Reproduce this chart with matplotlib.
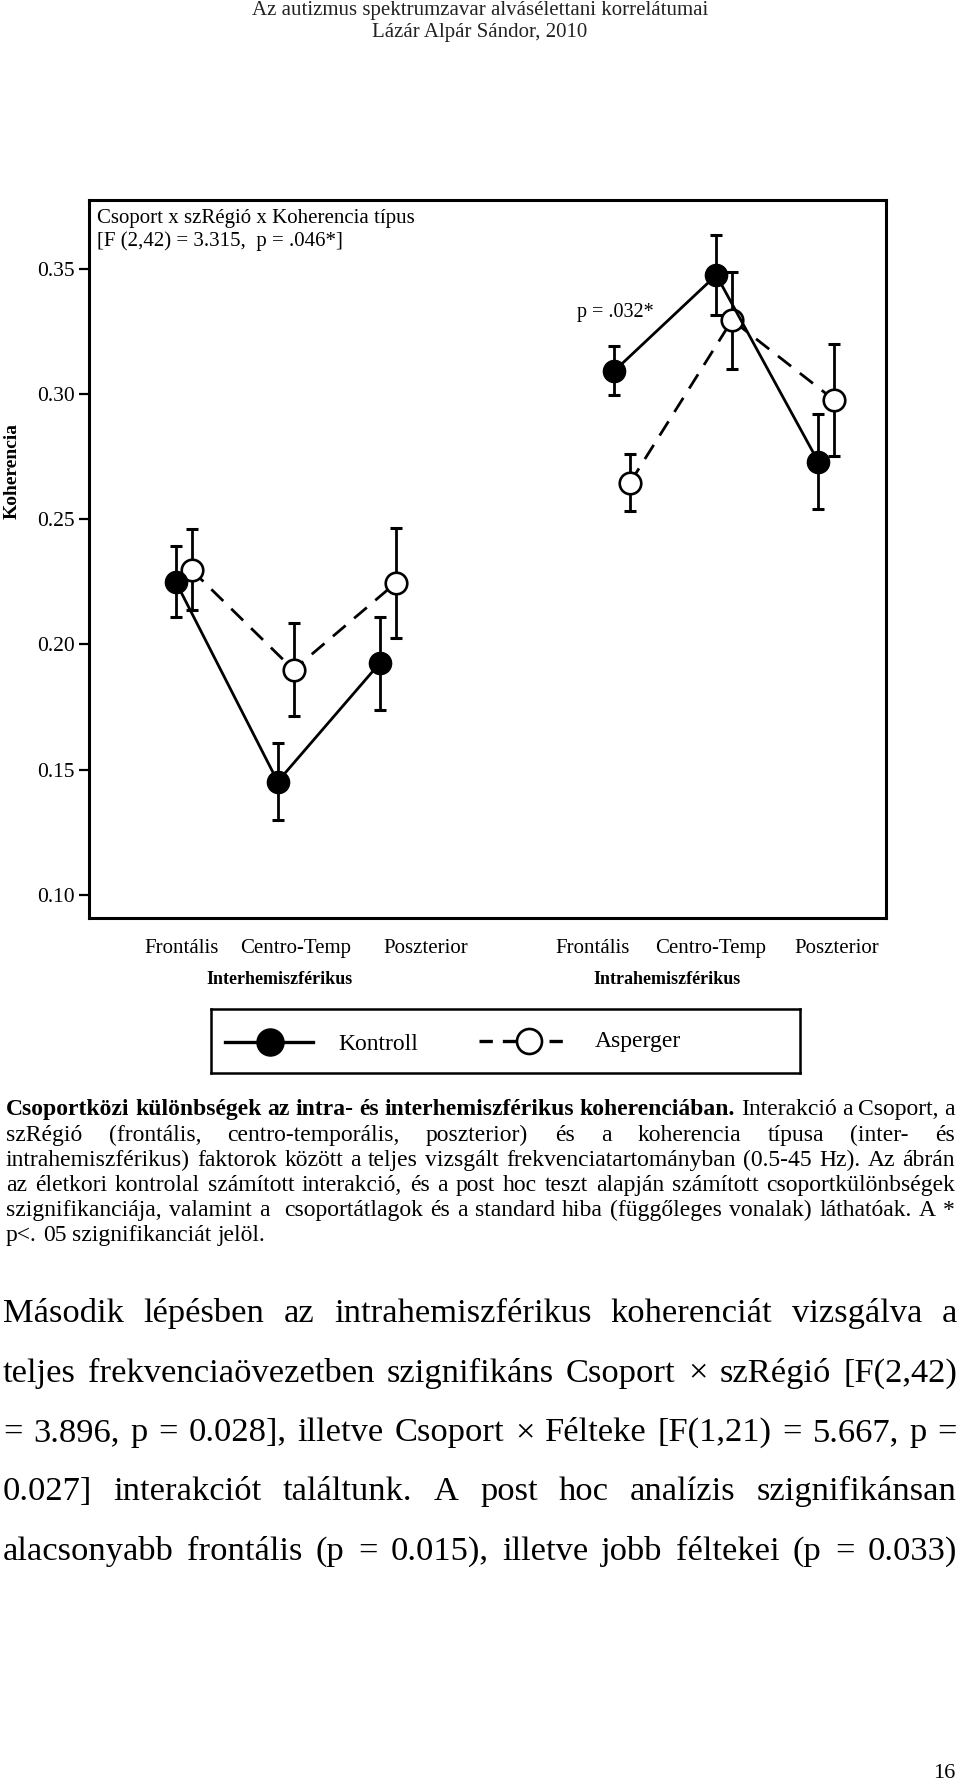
import matplotlib
matplotlib.use('Agg')
import matplotlib.pyplot as plt
from matplotlib.lines import Line2D

# ---------------- data ----------------
regions = ['Frontális', 'Centro-Temp', 'Poszterior']
kontroll_inter = [0.2251, 0.1452, 0.1925]
kontroll_inter_se = [0.0141, 0.0153, 0.0185]
asperger_inter = [0.2298, 0.1899, 0.2245]
asperger_inter_se = [0.0162, 0.0186, 0.0221]
kontroll_intra = [0.3093, 0.3476, 0.2730]
kontroll_intra_se = [0.0098, 0.0161, 0.0189]
asperger_intra = [0.2647, 0.3296, 0.2977]
asperger_intra_se = [0.0115, 0.0194, 0.0225]
yticks = [0.10, 0.15, 0.20, 0.25, 0.30, 0.35]
group_names = ['Interhemiszférikus', 'Intrahemiszférikus']

W, H = 960, 1788
plt.rcParams['font.family'] = ['Liberation Serif', 'DejaVu Serif']
fig = plt.figure(figsize=(W / 100, H / 100), dpi=100)


def fx(px):
    return px / W


def fy(py):
    return 1 - py / H


# ---------------- header ----------------
fig.text(0.5, fy(10), 'Az autizmus spektrumzavar alvásélettani korrelátumai',
         ha='center', va='center', size=15, color='#222222')
fig.text(0.5, fy(32), 'Lázár Alpár Sándor, 2010',
         ha='center', va='center', size=15, color='#222222')

# ---------------- chart ----------------
ax = fig.add_axes([fx(89), fy(918), fx(886) - fx(89), (918 - 200) / H])
x_inter = [1, 2, 3]
x_intra = [5.3, 6.3, 7.3]
off = 0.155

for xs, k, kse, a, ase in [(x_inter, kontroll_inter, kontroll_inter_se, asperger_inter, asperger_inter_se),
                           (x_intra, kontroll_intra, kontroll_intra_se, asperger_intra, asperger_intra_se)]:
    xa = [x + off for x in xs]
    ax.errorbar(xs, k, yerr=kse, fmt='none', ecolor='k', elinewidth=2.0,
                capsize=4, capthick=2.2, zorder=2)
    ax.errorbar(xa, a, yerr=ase, fmt='none', ecolor='k', elinewidth=2.0,
                capsize=4, capthick=2.2, zorder=2)
    ax.plot(xa, a, color='k', lw=2.0, dashes=(6, 4), marker='o', ms=15.5,
            mfc='white', mec='k', mew=1.9, zorder=3)
    ax.plot(xs, k, color='k', lw=2.0, marker='o', ms=16,
            mfc='k', mec='k', zorder=4)

ax.set_xlim(0.15, 0.15 + 797 / 102)
ax.set_ylim(0.0907, 0.3776)
ax.set_yticks(yticks, labels=[f'{v:.2f}' for v in yticks])
ax.tick_params(axis='y', length=7, width=1.6, pad=3, labelsize=15.5)
label_pos = [1.062, 2.18, 3.454, 5.09, 6.24, 7.48]
ax.set_xticks(label_pos, labels=regions * 2)
ax.tick_params(axis='x', length=0, pad=15, labelsize=15)
for s in ax.spines.values():
    s.set_linewidth(2.2)

fig.text(fx(97), fy(219), 'Csoport x szRégió x Koherencia típus',
         ha='left', va='center', size=15)
fig.text(fx(97), fy(241), '[F (2,42) = 3.315,  p = .046*]',
         ha='left', va='center', size=15)
fig.text(fx(577), fy(313), 'p = .032*', ha='left', va='center', size=14.5)

fig.text(fx(12), fy(471), 'Koherencia', rotation=90, ha='center', va='center',
         size=14, weight='bold')
fig.text(fx(280), fy(980), group_names[0], ha='center', va='center',
         size=13, weight='bold')
fig.text(fx(667), fy(980), group_names[1], ha='center', va='center',
         size=13, weight='bold')

# ---------------- legend ----------------
lax = fig.add_axes([fx(211), fy(1073), fx(800) - fx(211), (1073 - 1009) / H])
lax.set_xlim(0, 589)
lax.set_ylim(64, 0)
lax.set_xticks([])
lax.set_yticks([])
for s in lax.spines.values():
    s.set_linewidth(1.8)
lax.add_line(Line2D([14, 102], [33, 33], color='k', lw=2.4))
lax.add_line(Line2D([59], [33], marker='o', ms=19.5, mfc='k', mec='k', ls='none'))
lax.add_line(Line2D([268, 352], [32, 32], color='k', lw=2.4, dashes=(4, 3)))
lax.add_line(Line2D([318], [32], marker='o', ms=18, mfc='white', mec='k', mew=1.9, ls='none'))
lax.text(127, 36, 'Kontroll', va='center', ha='left', size=17)
lax.text(384, 33, 'Asperger', va='center', ha='left', size=17)

# ---------------- justified text ----------------
renderer = fig.canvas.get_renderer()


def place_line(words, x0, x1, yc, size, justify=True):
    base = yc + 0.3 * size * 100 / 72
    items = []
    for w, wt in words:
        if w == '':
            items.append((None, 0.0))
            continue
        t = fig.text(0, fy(base), w, size=size, weight=wt, va='baseline', ha='left')
        items.append((t, t.get_window_extent(renderer).width))
    total = sum(wd for _, wd in items)
    if justify and len(items) > 1:
        gap = (x1 - x0 - total) / (len(items) - 1)
    else:
        gap = 0.25 * size * 100 / 72
    x = x0
    for t, wd in items:
        if t is not None:
            t.set_x(fx(x))
        x += wd + gap


def words_of(s, wt='normal'):
    return [(w, wt) for w in s.split(' ')]


cap_size = 17
caption = [
    (words_of('Csoportközi különbségek az intra- és interhemiszférikus koherenciában.', 'bold')
     + words_of('Interakció a Csoport, a'), True),
    (words_of('szRégió (frontális, centro-temporális, poszterior) és a koherencia típusa (inter- és'), True),
    (words_of('intrahemiszférikus) faktorok között a teljes vizsgált frekvenciatartományban (0.5-45 Hz). Az ábrán'), True),
    (words_of('az életkori kontrolal számított interakció, és a post hoc teszt alapján számított csoportkülönbségek'), True),
    (words_of('szignifikanciája, valamint a  csoportátlagok és a standard hiba (függőleges vonalak) láthatóak. A *'), True),
    (words_of('p<. 05 szignifikanciát jelöl.'), False),
]
cap_y = [1108, 1134, 1159, 1184, 1209, 1234]
for (ws, j), yc in zip(caption, cap_y):
    place_line(ws, 6, 955, yc, cap_size, j)

body_size = 24.8
body = [
    'Második lépésben az intrahemiszférikus koherenciát vizsgálva a',
    'teljes frekvenciaövezetben szignifikáns Csoport × szRégió [F(2,42)',
    '= 3.896, p = 0.028], illetve Csoport × Félteke [F(1,21) = 5.667, p =',
    '0.027] interakciót találtunk. A post hoc analízis szignifikánsan',
    'alacsonyabb frontális (p = 0.015), illetve jobb féltekei (p = 0.033)',
]
body_y = [1312, 1371.4, 1430.7, 1490, 1549.2]
for s, yc in zip(body, body_y):
    place_line(words_of(s), 3, 957, yc, body_size, True)

fig.text(fx(944), fy(1773), '16', ha='center', va='center', size=16)

fig.savefig('out.png', dpi=100)
